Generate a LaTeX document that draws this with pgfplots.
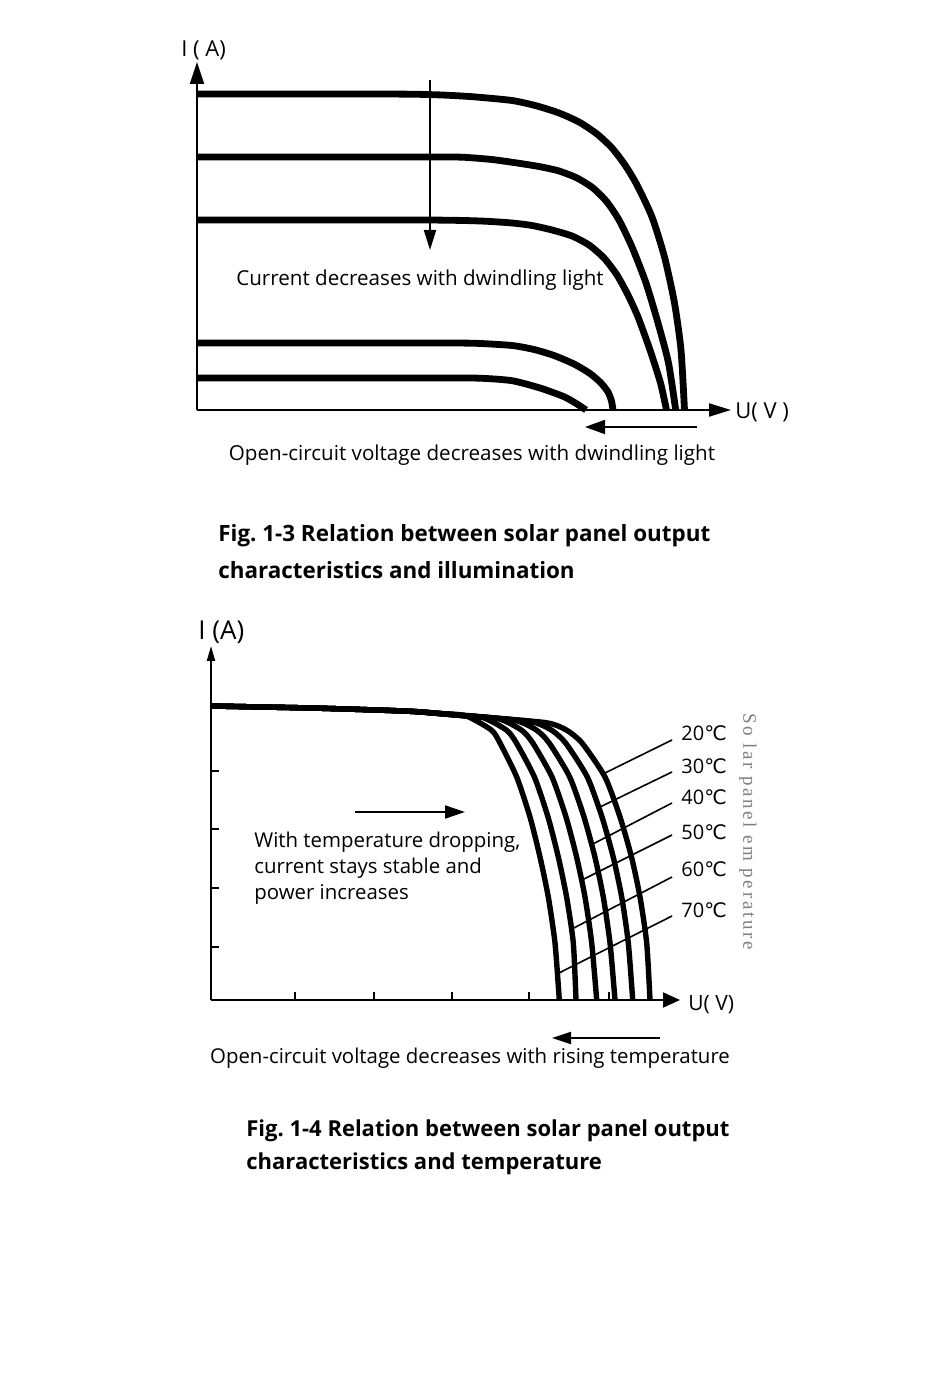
\documentclass[border=0pt]{standalone}
\usepackage{pgfplots}
\pgfplotsset{compat=1.18}
\usepackage{fontspec}
\setmainfont{Open Sans}
\newfontfamily\degfont{DejaVu Sans}
\newfontfamily\vfont[LetterSpace=14]{Liberation Serif}
\usetikzlibrary{arrows.meta}
\newcommand{\fs}[1]{\fontsize{#1}{#1}\selectfont}
\newcommand{\degC}{{\degfont ℃}}
\frenchspacing
\begin{document}
\begin{tikzpicture}
\useasboundingbox (0pt,0pt) rectangle (475pt,691.5pt);
\fill[white] (0pt,0pt) rectangle (475pt,691.5pt);
% ---------------- Fig. 1-3 ----------------
\begin{axis}[at={(98.5pt,486.5pt)}, anchor=south west,
  x=0.5pt, y=0.5pt, xmin=0, xmax=534, ymin=0, ymax=348,
  axis lines=left, xtick=\empty, ytick=\empty, clip=false,
  axis line style={line width=1pt},
  x axis line style={-{Triangle[length=11pt,width=6.5pt]}},
  y axis line style={-{Triangle[length=11pt,width=7pt]}}]
\addplot[black, line width=3.4pt, smooth, tension=0.4] coordinates {
 (0,316) (60,316) (120,316) (170,316) (214,315.8) (245,315) (275,313.3) (315,309.5)
 (340,304) (362,297) (382,288) (400,276) (415,262) (428,245) (440,225) (455,193)
 (467.5,153) (477.5,107) (484,60) (487.5,0)};
\addplot[black, line width=3.4pt, smooth, tension=0.4] coordinates {
 (0,253) (60,253) (120,253) (180,253) (230,253) (265,252.8) (294.6,250.5) (320,247)
 (343,243.3) (362,239) (380,232) (396,222) (410,208) (422,190) (435,163) (449,127)
 (461,87) (471.5,47) (478.7,0)};
\addplot[black, line width=3.4pt, smooth, tension=0.4] coordinates {
 (0,190) (60,190) (120,190) (180,190) (230,190) (266.5,189.5) (290,188.7) (315,187)
 (335,184.5) (355,180) (375,174) (392,165) (407,152) (420,135) (431,115) (441,93)
 (453,60) (463.5,27) (469.5,0)};
\addplot[black, line width=3.4pt, smooth, tension=0.4] coordinates {
 (0,67) (60,67) (120,67) (180,67) (240,67) (278.5,66.7) (315,64.5) (337,60.5) (357,54.5)
 (377,46) (393,36.5) (404,27) (411,18) (414.5,9) (416,0)};
\addplot[black, line width=3.4pt, smooth, tension=0.4] coordinates {
 (0,32) (60,32) (120,32) (180,32) (240,32) (282.5,31.8) (315,29.3) (343,22) (367,13.3)
 (380,6) (389,0)};
\draw[line width=1pt, -{Triangle[length=10pt,width=6pt]}] (axis cs:233,330) -- (axis cs:233,160);
\node[font=\fs{10.3pt}] at (axis cs:223,130) {Current decreases with dwindling light};
\draw[line width=1pt, -{Triangle[length=10pt,width=7pt]}] (axis cs:500,-17) -- (axis cs:388,-17);
\node[font=\fs{10.3pt}] at (axis cs:275,-45) {Open-circuit voltage decreases with dwindling light};
\node[anchor=west, inner sep=0pt, font=\fs{11pt}] at (axis cs:-16,360) {I ( A)};
\node[anchor=west, inner sep=0pt, font=\fs{11pt}] at (axis cs:538,-2) {U( V )};
\node[anchor=west, inner sep=0pt, font=\bfseries\fs{11.2pt}] at (axis cs:21,-126) {Fig. 1-3 Relation between solar panel output};
\node[anchor=west, inner sep=0pt, font=\bfseries\fs{11.2pt}] at (axis cs:21,-160) {characteristics and illumination};
\end{axis}
% ---------------- Fig. 1-4 ----------------
\begin{axis}[at={(105.5pt,191.5pt)}, anchor=south west,
  x=0.5pt, y=0.5pt, xmin=0, xmax=469, ymin=0, ymax=354,
  axis lines=left, clip=false,
  xtick={84,163,241,318,398}, ytick={53,112,171,229},
  xticklabels={}, yticklabels={},
  tick align=inside, major tick length=4pt,
  tick style={line width=0.9pt, black},
  axis line style={line width=1pt},
  x axis line style={-{Triangle[length=8.5pt,width=7.5pt]}},
  y axis line style={-{Triangle[length=7.5pt,width=4pt]}}]
% 70 C
\addplot[black, line width=2.7pt, smooth, tension=0.4] coordinates {
 (0,294) (50,293) (100,292) (150,290.5) (203,288.5) (230,286.5) (255,284.1) (280.3,270)
 (289,257) (305.7,223) (319,183) (329,143) (337.3,103) (344,57) (348.3,0)};
% 60 C
\addplot[black, line width=2.7pt, smooth, tension=0.4] coordinates {
 (0,294) (50,293) (100,292) (150,290.5) (203,288.5) (240,285.4) (271,282.7) (295.3,270)
 (305.4,257) (323.4,223) (337,183) (347.3,143) (355.6,103) (362.3,57) (365,0)};
% 50 C
\addplot[black, line width=2.7pt, smooth, tension=0.4] coordinates {
 (0,294) (50,293) (100,292) (150,290.5) (203,288.5) (245,285) (287,281.4) (310.3,270)
 (321.8,257) (341,223) (355,183) (365.6,143) (374,103) (380.7,57) (385.7,0)};
% 40 C
\addplot[black, line width=2.7pt, smooth, tension=0.4] coordinates {
 (0,294) (50,293) (100,292) (150,290.5) (203,288.5) (253,284.3) (303,280) (325.3,270)
 (338.2,257) (358.7,223) (373,183) (383.9,143) (392.3,103) (399,57) (404,0)};
% 30 C
\addplot[black, line width=2.7pt, smooth, tension=0.4] coordinates {
 (0,294) (50,293) (100,292) (150,290.5) (203,288.5) (261,283.5) (319,278.6) (340.3,270)
 (354.6,257) (376.3,223) (391,183) (402.2,143) (410.7,103) (417.3,57) (421.7,0)};
% 20 C
\addplot[black, line width=2.7pt, smooth, tension=0.4] coordinates {
 (0,294) (50,293) (100,292) (150,290.5) (203,288.5) (269,283) (335,277.3) (355.3,270)
 (371,257) (394,223) (409,183) (420.5,143) (429,103) (435.7,57) (439,0)};
% label leader lines
\draw[line width=0.8pt] (axis cs:461,260) -- (axis cs:394,227);
\draw[line width=0.8pt] (axis cs:461,228) -- (axis cs:389,193);
\draw[line width=0.8pt] (axis cs:461,197) -- (axis cs:380,155);
\draw[line width=0.8pt] (axis cs:461,165) -- (axis cs:371,120);
\draw[line width=0.8pt] (axis cs:461,123) -- (axis cs:359,70);
\draw[line width=0.8pt] (axis cs:461,84) -- (axis cs:348,27);
\node[anchor=west, inner sep=0pt, font=\fs{10pt}] at (axis cs:470,267) {20\degC};
\node[anchor=west, inner sep=0pt, font=\fs{10pt}] at (axis cs:470,234) {30\degC};
\node[anchor=west, inner sep=0pt, font=\fs{10pt}] at (axis cs:470,203) {40\degC};
\node[anchor=west, inner sep=0pt, font=\fs{10pt}] at (axis cs:470,168) {50\degC};
\node[anchor=west, inner sep=0pt, font=\fs{10pt}] at (axis cs:470,131) {60\degC};
\node[anchor=west, inner sep=0pt, font=\fs{10pt}] at (axis cs:470,90) {70\degC};
\node[rotate=-90, anchor=west, inner sep=0pt, text=gray, font=\vfont\fs{9.5pt}] at (axis cs:537,287) {So lar panel em perature};
% annotations
\draw[line width=1pt, -{Triangle[length=10pt,width=6.5pt]}] (axis cs:144,188) -- (axis cs:254,188);
\node[anchor=west, inner sep=0pt, font=\fs{10.2pt}] at (axis cs:43,158) {With temperature dropping,};
\node[anchor=west, inner sep=0pt, font=\fs{10.2pt}] at (axis cs:43,132) {current stays stable and};
\node[anchor=west, inner sep=0pt, font=\fs{10.2pt}] at (axis cs:43,106) {power increases};
\draw[line width=1pt, -{Triangle[length=9.5pt,width=6pt]}] (axis cs:449,-38) -- (axis cs:341,-38);
\node[font=\fs{10.2pt}] at (axis cs:259,-58) {Open-circuit voltage decreases with rising temperature};
\node[anchor=west, inner sep=0pt, font=\fs{13pt}] at (axis cs:-13,368) {I (A)};
\node[anchor=west, inner sep=0pt, font=\fs{10.5pt}] at (axis cs:477,-5) {U( V)};
\node[anchor=west, inner sep=0pt, font=\bfseries\fs{11pt}] at (axis cs:35,-131) {Fig. 1-4 Relation between solar panel output};
\node[anchor=west, inner sep=0pt, font=\bfseries\fs{11pt}] at (axis cs:35,-164) {characteristics and temperature};
\end{axis}
\end{tikzpicture}
\end{document}
